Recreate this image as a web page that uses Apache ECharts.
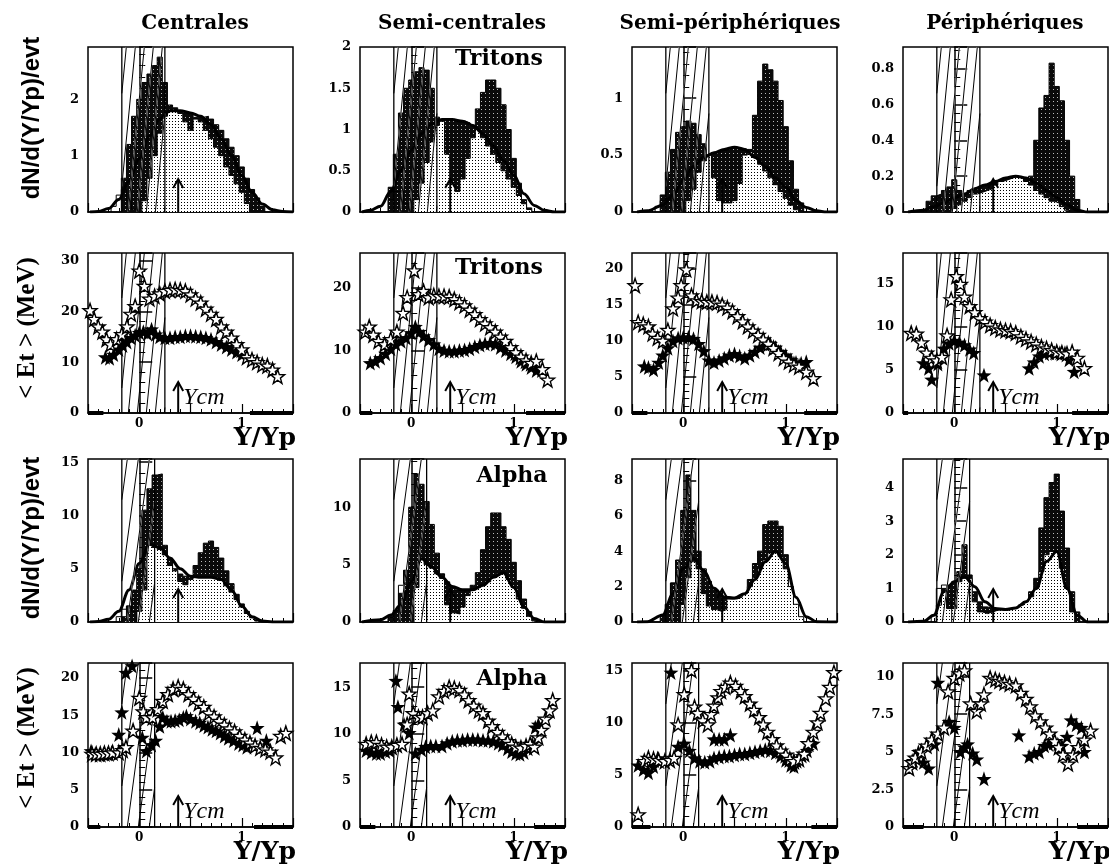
<!DOCTYPE html>
<html><head><meta charset="utf-8">
<script src="https://cdn.jsdelivr.net/npm/echarts@6.0.0/dist/echarts.min.js"></script>
<style>html,body{margin:0;padding:0;background:#fff}#c{width:1109px;height:866px}</style>
</head><body><div id="c"></div>
<script>
// ---------------- DATA ----------------
const colTitles = ['Centrales', 'Semi-centrales', 'Semi-périphériques', 'Périphériques'];
const ycm = 0.38;
const bandTritons = [-0.17, 0.25];
const bandAlpha = [-0.17, 0.15];
const binWidth = 0.05;

// y-axis ranges and tick steps per row (columns: C, SC, SP, P)
const yMaxRows = [[2.93, 2.0, 1.45, 0.92], [31.5, 25.6, 22.2, 18.6], [15.3, 14.2, 9.2, 4.85], [22, 17.6, 15.7, 10.9]];
const yStepRows = [[1, 0.5, 0.5, 0.2], [10, 10, 5, 5], [5, 5, 2, 1], [5, 5, 5, 2.5]];
const xTickLabels = [0, 1];

// ---- Tritons dN/d(Y/Yp) histograms: [bin centre, value]
const triDarkC = [[-0.15,0.6],[-0.1,1.2],[-0.05,1.7],[0,2.0],[0.05,2.3],[0.1,2.45],[0.15,2.6],[0.2,2.75],[0.25,2.3],[0.3,1.9],[0.35,1.85],[0.4,1.8],[0.45,1.75],[0.5,1.72],[0.55,1.68],[0.6,1.68],[0.65,1.7],[0.7,1.65],[0.75,1.55],[0.8,1.45],[0.85,1.3],[0.9,1.15],[0.95,1.0],[1.0,0.8],[1.05,0.6],[1.1,0.4],[1.15,0.25],[1.2,0.1]];
const triLightC = [[0.05,0.2],[0.1,0.6],[0.15,1.0],[0.2,1.4],[0.25,1.7],[0.3,1.8],[0.35,1.8],[0.4,1.75],[0.45,1.6],[0.5,1.45],[0.55,1.65],[0.6,1.6],[0.65,1.45],[0.7,1.3],[0.75,1.15],[0.8,1.0],[0.85,0.8],[0.9,0.65],[0.95,0.5],[1.0,0.35],[1.05,0.15]];
const triBumpC = [[-0.25,0.1],[-0.2,0.3],[-0.15,0.4],[-0.1,0.2],[-0.05,0.05]];
const triFitC = [[-0.48,0],[-0.4,0.01],[-0.3,0.06],[-0.2,0.22],[-0.1,0.55],[0,0.95],[0.1,1.35],[0.2,1.65],[0.3,1.8],[0.4,1.8],[0.5,1.76],[0.6,1.7],[0.7,1.55],[0.8,1.3],[0.9,1.0],[1.0,0.65],[1.1,0.35],[1.2,0.14],[1.3,0.04],[1.4,0.01],[1.5,0]];

const triDarkSC = [[-0.2,0.3],[-0.15,0.7],[-0.1,1.2],[-0.05,1.5],[0,1.6],[0.05,1.7],[0.1,1.75],[0.15,1.72],[0.2,1.5],[0.25,1.15],[0.3,1.12],[0.35,1.12],[0.4,1.12],[0.45,1.1],[0.5,1.1],[0.55,1.08],[0.6,1.05],[0.65,1.25],[0.7,1.45],[0.75,1.6],[0.8,1.6],[0.85,1.5],[0.9,1.3],[0.95,1.0],[1.0,0.65],[1.05,0.35],[1.1,0.15],[1.15,0.05]];
const triLightSC = [[0.05,0.15],[0.1,0.35],[0.15,0.6],[0.2,0.85],[0.25,1.05],[0.3,1.1],[0.35,0.7],[0.4,0.35],[0.45,0.25],[0.5,0.4],[0.55,0.65],[0.6,0.9],[0.65,1.0],[0.7,0.9],[0.75,0.8],[0.8,0.7],[0.85,0.6],[0.9,0.5],[0.95,0.4],[1.0,0.3],[1.05,0.2],[1.1,0.1],[1.15,0.03]];
const triBumpSC = [[-0.2,0.15],[-0.15,0.25],[-0.1,0.25],[-0.05,0.1]];
const triFitSC = [[-0.48,0],[-0.4,0.02],[-0.3,0.07],[-0.2,0.25],[-0.1,0.5],[0,0.75],[0.1,0.95],[0.2,1.07],[0.3,1.12],[0.4,1.12],[0.5,1.1],[0.6,1.05],[0.7,0.95],[0.8,0.8],[0.9,0.62],[1.0,0.45],[1.1,0.22],[1.2,0.08],[1.3,0.02],[1.4,0],[1.5,0]];

const triDarkSP = [[-0.2,0.15],[-0.15,0.35],[-0.1,0.55],[-0.05,0.7],[0,0.75],[0.05,0.8],[0.1,0.78],[0.15,0.68],[0.2,0.6],[0.25,0.5],[0.3,0.52],[0.35,0.53],[0.4,0.55],[0.45,0.56],[0.5,0.57],[0.55,0.56],[0.6,0.55],[0.65,0.55],[0.7,0.85],[0.75,1.15],[0.8,1.3],[0.85,1.25],[0.9,1.15],[0.95,0.98],[1.0,0.75],[1.05,0.45],[1.1,0.2],[1.15,0.08]];
const triLightSP = [[0.05,0.1],[0.1,0.2],[0.15,0.35],[0.2,0.45],[0.25,0.5],[0.3,0.3],[0.35,0.1],[0.4,0.08],[0.45,0.08],[0.5,0.1],[0.55,0.25],[0.6,0.5],[0.65,0.53],[0.7,0.48],[0.75,0.42],[0.8,0.36],[0.85,0.3],[0.9,0.24],[0.95,0.18],[1.0,0.12],[1.05,0.06],[1.1,0.02]];
const triBumpSP = [[-0.25,0.05],[-0.2,0.1],[-0.15,0.12],[-0.1,0.1],[-0.05,0.05]];
const triFitSP = [[-0.45,0],[-0.35,0.01],[-0.2,0.06],[-0.1,0.15],[0,0.28],[0.1,0.4],[0.2,0.48],[0.3,0.52],[0.4,0.55],[0.5,0.57],[0.6,0.55],[0.7,0.48],[0.8,0.4],[0.9,0.3],[1.0,0.22],[1.1,0.1],[1.2,0.04],[1.3,0.01],[1.4,0],[1.5,0]];

const triDarkP = [[-0.25,0.06],[-0.2,0.09],[-0.15,0.1],[-0.1,0.12],[-0.05,0.14],[0,0.18],[0.05,0.12],[0.1,0.1],[0.15,0.12],[0.2,0.13],[0.25,0.14],[0.3,0.15],[0.35,0.16],[0.4,0.17],[0.45,0.18],[0.5,0.19],[0.55,0.2],[0.6,0.2],[0.65,0.19],[0.7,0.18],[0.75,0.2],[0.8,0.4],[0.85,0.58],[0.9,0.65],[0.95,0.83],[1.0,0.7],[1.05,0.62],[1.1,0.4],[1.15,0.2],[1.2,0.07]];
const triLightP = [[0,0.02],[0.05,0.04],[0.1,0.06],[0.15,0.08],[0.2,0.1],[0.25,0.11],[0.3,0.12],[0.35,0.13],[0.4,0.15],[0.45,0.17],[0.5,0.18],[0.55,0.19],[0.6,0.2],[0.65,0.19],[0.7,0.17],[0.75,0.15],[0.8,0.12],[0.85,0.1],[0.9,0.08],[0.95,0.06],[1.0,0.05],[1.05,0.03],[1.1,0.01]];
const triBumpP = [[-0.2,0.03],[-0.15,0.08],[-0.1,0.05],[-0.05,0.1],[0,0.03]];
const triFitP = [[-0.45,0],[-0.3,0.01],[-0.2,0.03],[-0.1,0.05],[0,0.08],[0.1,0.1],[0.2,0.13],[0.3,0.15],[0.4,0.17],[0.5,0.19],[0.6,0.2],[0.7,0.19],[0.8,0.16],[0.9,0.12],[1.0,0.08],[1.1,0.04],[1.2,0.01],[1.3,0],[1.5,0]];

// ---- Alpha dN/d(Y/Yp) histograms
const alpDarkC = [[-0.15,0.5],[-0.1,1.5],[-0.05,3],[0,5],[0.05,10.5],[0.1,12.5],[0.15,13.8],[0.2,13.9],[0.25,7.2],[0.3,6.0],[0.35,5.0],[0.4,4.5],[0.45,4.3],[0.5,4.2],[0.55,5.3],[0.6,6.5],[0.65,7.4],[0.7,7.6],[0.75,7.0],[0.8,6.0],[0.85,4.8],[0.9,3.6],[0.95,2.6],[1.0,1.7],[1.05,1.0],[1.1,0.5],[1.15,0.2],[1.2,0.05]];
const alpLightC = [[0,1.0],[0.05,3.0],[0.1,7.2],[0.15,7.0],[0.2,6.8],[0.25,6.3],[0.3,5.3],[0.35,4.8],[0.4,3.8],[0.45,3.5],[0.5,4.0],[0.55,4.2],[0.6,4.2],[0.65,4.2],[0.7,4.2],[0.75,4.1],[0.8,3.9],[0.85,3.4],[0.9,2.8],[0.95,2.1],[1.0,1.4],[1.05,0.8],[1.1,0.4],[1.15,0.1]];
const alpBumpC = [[-0.2,0.5],[-0.15,1.2],[-0.1,1.5],[-0.05,1.0]];
const alpFitC = [[-0.48,0],[-0.4,0.05],[-0.3,0.25],[-0.2,1.0],[-0.1,3.0],[0,5.5],[0.1,7.3],[0.2,7.0],[0.3,6.0],[0.4,5.0],[0.5,4.3],[0.6,4.2],[0.7,4.2],[0.8,4.0],[0.9,3.0],[1.0,1.5],[1.1,0.5],[1.2,0.1],[1.3,0.01],[1.5,0]];

const alpDarkSC = [[-0.2,0.5],[-0.15,1.0],[-0.1,2.5],[-0.05,4.5],[0,10],[0.05,12.9],[0.1,12.0],[0.15,10.5],[0.2,8.5],[0.25,6.0],[0.3,4.2],[0.35,3.5],[0.4,3.0],[0.45,2.8],[0.5,2.7],[0.55,2.8],[0.6,3.2],[0.65,4.3],[0.7,6.3],[0.75,8.3],[0.8,9.5],[0.85,9.5],[0.9,8.3],[0.95,7.2],[1.0,5.2],[1.05,3.6],[1.1,2.0],[1.15,0.9],[1.2,0.3]];
const alpLightSC = [[0.05,3],[0.1,5.5],[0.15,5.0],[0.2,4.7],[0.25,4.2],[0.3,3.8],[0.35,1.5],[0.4,0.8],[0.45,0.7],[0.5,1.3],[0.55,2.3],[0.6,2.8],[0.65,3.0],[0.7,3.2],[0.75,3.5],[0.8,3.9],[0.85,4.2],[0.9,4.3],[0.95,3.7],[1.0,3.0],[1.05,2.0],[1.1,1.2],[1.15,0.5],[1.2,0.1]];
const alpBumpSC = [[-0.2,0.4],[-0.15,1.0],[-0.1,3.2],[-0.05,4.5],[0,1.5]];
const alpFitSC = [[-0.48,0],[-0.3,0.2],[-0.2,0.6],[-0.1,1.5],[0,3.5],[0.1,5.5],[0.2,4.8],[0.3,3.9],[0.4,3.1],[0.5,2.8],[0.6,2.8],[0.7,3.2],[0.8,3.9],[0.9,4.3],[1.0,3.0],[1.1,1.3],[1.2,0.3],[1.3,0],[1.5,0]];

const alpDarkSP = [[-0.2,0.4],[-0.15,1.0],[-0.1,2.2],[-0.05,3.5],[0,6.3],[0.05,8.3],[0.1,6.3],[0.15,4.0],[0.2,3.0],[0.25,2.3],[0.3,1.9],[0.35,1.6],[0.4,1.45],[0.45,1.4],[0.5,1.35],[0.55,1.4],[0.6,1.6],[0.65,2.4],[0.7,3.3],[0.75,4.0],[0.8,5.5],[0.85,5.7],[0.9,5.7],[0.95,5.4],[1.0,3.8],[1.05,1.9],[1.1,0.6],[1.15,0.1]];
const alpLightSP = [[0,1.0],[0.05,2.5],[0.1,3.4],[0.15,3.0],[0.2,1.6],[0.25,0.9],[0.3,0.7],[0.35,0.6],[0.4,0.7],[0.45,1.3],[0.5,1.3],[0.55,1.4],[0.6,1.6],[0.65,2.0],[0.7,2.5],[0.75,3.0],[0.8,3.5],[0.85,3.9],[0.9,4.0],[0.95,3.7],[1.0,3.0],[1.05,2.0],[1.1,1.0],[1.15,0.3]];
const alpBumpSP = [[-0.15,1.0],[-0.1,2.2],[-0.05,2.8],[0,1.0]];
const alpFitSP = [[-0.45,0],[-0.35,0.02],[-0.2,0.4],[-0.1,1.6],[0,3.0],[0.1,3.6],[0.2,2.9],[0.3,1.9],[0.4,1.4],[0.5,1.35],[0.6,1.6],[0.7,2.4],[0.8,3.4],[0.9,4.0],[1.0,3.3],[1.1,1.4],[1.2,0.3],[1.3,0.02],[1.5,0]];

const alpDarkP = [[-0.15,0.3],[-0.1,1.0],[-0.05,1.1],[0,1.2],[0.05,1.5],[0.1,2.3],[0.15,1.4],[0.2,0.9],[0.25,0.6],[0.3,0.45],[0.35,0.4],[0.4,0.38],[0.45,0.37],[0.5,0.37],[0.55,0.4],[0.6,0.42],[0.65,0.5],[0.7,0.6],[0.75,0.9],[0.8,1.3],[0.85,2.8],[0.9,3.7],[0.95,4.15],[1.0,4.4],[1.05,3.3],[1.1,2.2],[1.15,0.9],[1.2,0.3]];
const alpLightP = [[-0.15,0.5],[-0.1,0.9],[-0.05,0.4],[0,0.4],[0.05,1.2],[0.1,1.3],[0.15,1.3],[0.2,0.6],[0.25,0.3],[0.3,0.25],[0.35,0.3],[0.4,0.35],[0.45,0.37],[0.5,0.37],[0.55,0.4],[0.6,0.42],[0.65,0.5],[0.7,0.6],[0.75,0.75],[0.8,1.0],[0.85,1.5],[0.9,2.0],[0.95,2.1],[1.0,2.1],[1.05,1.6],[1.1,1.0],[1.15,0.3]];
const alpBumpP = [[-0.2,0.2],[-0.15,1.0],[-0.1,1.1],[-0.05,0.6]];
const alpFitP = [[-0.45,0],[-0.3,0.02],[-0.2,0.2],[-0.1,0.9],[0,1.2],[0.1,1.35],[0.2,1.05],[0.3,0.6],[0.4,0.4],[0.5,0.37],[0.6,0.42],[0.7,0.6],[0.8,1.0],[0.9,1.8],[1.0,2.1],[1.1,1.0],[1.2,0.2],[1.3,0],[1.5,0]];

// ---- Tritons <Et> (MeV): open stars, filled stars, zero-level segments
const triEtOpenC = [[-0.48,20.2],[-0.44,18.5],[-0.4,17],[-0.36,16],[-0.32,14.5],[-0.28,13.5],[-0.22,14.5],[-0.17,15.5],[-0.12,17],[-0.08,19.5],[-0.04,21],[0.0,28],[0.05,25],[0.1,22.5],[0.15,23],[0.2,23.5],[0.25,24],[0.3,24.2],[0.35,24.3],[0.4,24.2],[0.45,24],[0.5,23.3],[0.55,22.5],[0.6,21.7],[0.65,20.5],[0.7,19.5],[0.75,18.5],[0.8,17],[0.85,16],[0.9,14.8],[0.95,13.5],[1.0,12.5],[1.05,11],[1.1,10.5],[1.15,10],[1.2,9.5],[1.25,9.3],[1.3,8.5],[1.35,7.2]];
const triEtFillC = [[-0.33,11],[-0.29,10.8],[-0.25,11.5],[-0.2,12.5],[-0.16,13.3],[-0.12,14],[-0.08,14.8],[-0.04,15.3],[0.0,15.8],[0.04,16],[0.08,15.6],[0.12,16.5],[0.16,15.5],[0.2,15],[0.25,14.8],[0.3,14.8],[0.35,15],[0.4,15],[0.45,15.2],[0.5,15.2],[0.55,15.1],[0.6,15],[0.65,14.8],[0.7,14.5],[0.75,14],[0.8,13.5],[0.85,13],[0.9,12.5],[0.95,12],[1.0,11.5],[1.05,11],[1.1,10.5],[1.15,10]];
const triEtZeroC = [[-0.5,-0.35],[1.08,1.5]];

const triEtOpenSC = [[-0.45,13],[-0.41,13.8],[-0.37,12.5],[-0.32,11.5],[-0.26,11],[-0.2,11.8],[-0.14,13],[-0.08,16],[-0.04,18.5],[0.03,22.8],[0.07,19],[0.12,19.5],[0.17,18.5],[0.22,18.8],[0.27,18.7],[0.32,18.7],[0.37,18.6],[0.42,18.2],[0.47,17.7],[0.52,17.2],[0.57,16.5],[0.62,15.8],[0.67,15],[0.72,14.3],[0.77,13.7],[0.82,13],[0.87,12.2],[0.92,11.5],[0.97,10.5],[1.02,9.7],[1.07,9],[1.12,8.4],[1.17,8],[1.22,8.3],[1.28,7],[1.33,5.3]];
const triEtFillSC = [[-0.4,8],[-0.35,8.3],[-0.3,8.8],[-0.25,9.5],[-0.2,10.3],[-0.15,11],[-0.1,11.5],[-0.05,12],[0.0,12.8],[0.04,13.8],[0.08,13],[0.12,12.3],[0.17,11.7],[0.22,11],[0.27,10.3],[0.32,10],[0.37,9.9],[0.42,9.9],[0.47,10],[0.52,10.1],[0.57,10.3],[0.62,10.6],[0.67,10.9],[0.72,11.1],[0.77,11.2],[0.82,11],[0.87,10.5],[0.92,10],[0.97,9.5],[1.02,9],[1.07,8.3],[1.12,7.8],[1.17,7.3],[1.22,6.8]];
const triEtZeroSC = [[-0.5,-0.38],[1.12,1.5]];

const triEtOpenSP = [[-0.47,17.7],[-0.44,12.6],[-0.39,12.3],[-0.34,12],[-0.3,11],[-0.25,10.4],[-0.2,10],[-0.15,11.5],[-0.1,14.5],[-0.05,16],[-0.02,17.7],[0.03,19.9],[0.08,16.3],[0.13,15.6],[0.18,15.5],[0.23,15.4],[0.28,15.4],[0.33,15.3],[0.38,15],[0.43,14.6],[0.48,14.1],[0.53,13.4],[0.58,12.7],[0.63,12],[0.68,11.4],[0.73,10.8],[0.78,10.2],[0.83,9.6],[0.88,9],[0.93,8.3],[0.98,7.6],[1.03,7.1],[1.08,6.7],[1.13,6.4],[1.2,5.7],[1.27,4.8]];
const triEtFillSP = [[-0.38,6.5],[-0.34,6.3],[-0.29,6],[-0.24,7],[-0.2,8],[-0.15,9],[-0.1,10],[-0.05,10.4],[0.0,10.5],[0.05,10.5],[0.1,10.3],[0.15,9.6],[0.2,8.6],[0.25,7.3],[0.3,7],[0.35,7.3],[0.4,7.6],[0.45,8],[0.5,8.2],[0.55,7.9],[0.6,7.6],[0.65,8],[0.7,8.5],[0.75,9.1],[0.8,9.5],[0.85,9.6],[0.9,9.1],[0.95,8.5],[1.0,8],[1.05,7.4],[1.1,7],[1.15,6.9],[1.2,7.1]];
const triEtZeroSP = [[-0.5,-0.35],[1.18,1.5]];

const triEtOpenP = [[-0.42,9.3],[-0.37,9.2],[-0.32,8.2],[-0.27,7],[-0.22,6.4],[-0.17,6.1],[-0.12,6.5],[-0.07,9],[-0.03,13.2],[0.02,15.9],[0.06,15],[0.1,13.5],[0.15,12.4],[0.2,11.7],[0.25,11],[0.3,10.6],[0.35,10.2],[0.4,9.9],[0.45,9.7],[0.5,9.6],[0.55,9.5],[0.6,9.3],[0.65,8.9],[0.7,8.6],[0.75,8.3],[0.8,8],[0.85,7.7],[0.9,7.5],[0.95,7.3],[1.0,7.1],[1.05,7],[1.1,6.9],[1.15,7.1],[1.2,6.4],[1.27,5.2]];
const triEtFillP = [[-0.3,5.8],[-0.25,5.2],[-0.22,3.9],[-0.16,5.7],[-0.1,7.5],[-0.05,8.1],[0.0,8.4],[0.05,8.2],[0.1,7.9],[0.15,7.4],[0.19,7.0],[0.29,4.4],[0.73,5.2],[0.78,5.9],[0.83,6.6],[0.88,6.9],[0.93,7.0],[0.98,7.0],[1.03,7.0],[1.08,7.0],[1.12,6.2],[1.17,4.8]];
const triEtZeroP = [[-0.5,-0.45],[1.15,1.5]];

// ---- Alpha <Et> (MeV)
const alpEtOpenC = [[-0.46,9.8],[-0.42,9.8],[-0.38,9.8],[-0.34,9.9],[-0.3,9.9],[-0.26,10],[-0.2,10],[-0.16,10.3],[-0.13,10.7],[-0.06,12.9],[0.0,17.3],[0.04,15.5],[0.07,14.7],[0.13,14.7],[0.18,15.8],[0.23,16.9],[0.28,17.8],[0.33,18.5],[0.38,18.8],[0.43,18.5],[0.48,17.8],[0.53,17.2],[0.58,16.6],[0.63,16.1],[0.68,15.3],[0.73,14.8],[0.78,14.2],[0.83,13.7],[0.88,13.2],[0.93,12.8],[0.98,12.2],[1.03,11.7],[1.08,11.3],[1.13,10.9],[1.18,10.6],[1.23,10.4],[1.28,10.1],[1.33,9.3],[1.38,12.2],[1.43,12.6]];
const alpEtFillC = [[-0.47,10.2],[-0.43,9.8],[-0.39,9.7],[-0.35,9.8],[-0.31,9.8],[-0.27,10],[-0.2,12.4],[-0.17,15.4],[-0.13,20.7],[-0.07,21.6],[0.03,12],[0.07,10.2],[0.12,11],[0.16,11.6],[0.2,13.5],[0.23,14.7],[0.27,14.2],[0.31,14.2],[0.35,14.3],[0.39,14.4],[0.43,14.7],[0.46,14.9],[0.5,14.5],[0.55,14.2],[0.59,14],[0.63,13.6],[0.67,13.4],[0.71,13.1],[0.75,12.9],[0.79,12.6],[0.83,12.2],[0.87,11.9],[0.92,11.6],[0.97,11.2],[1.01,11],[1.05,10.7],[1.15,13.3],[1.24,11.6]];
const alpEtZeroC = [[-0.5,-0.38],[1.12,1.5]];

const alpEtOpenSC = [[-0.44,8.9],[-0.39,9.1],[-0.34,9.1],[-0.29,8.8],[-0.24,8.6],[-0.19,8.6],[-0.14,8.8],[-0.09,8.9],[-0.04,11],[-0.02,14.3],[0.02,12.2],[0.07,11.8],[0.11,11.8],[0.16,12.2],[0.21,12.5],[0.27,14],[0.32,14.6],[0.37,15],[0.42,14.9],[0.47,14.7],[0.52,14.2],[0.56,13.6],[0.61,13],[0.66,12.5],[0.7,12.2],[0.75,11.4],[0.79,10.8],[0.84,10.2],[0.89,9.7],[0.94,9.2],[0.98,8.9],[1.02,8.6],[1.07,8.5],[1.12,8.7],[1.16,8.9],[1.2,8.6],[1.24,9.6],[1.27,10.4],[1.31,11.6],[1.35,12.5],[1.38,13.6]];
const alpEtFillSC = [[-0.44,8.2],[-0.39,8.0],[-0.34,7.9],[-0.3,7.9],[-0.25,8.1],[-0.21,8.2],[-0.15,15.7],[-0.13,12.9],[-0.07,11],[-0.02,10.1],[0.04,7.9],[0.1,8.3],[0.14,8.6],[0.19,8.7],[0.24,8.7],[0.3,8.7],[0.35,9],[0.4,9.2],[0.45,9.3],[0.5,9.3],[0.55,9.4],[0.6,9.4],[0.65,9.4],[0.7,9.3],[0.75,9.3],[0.8,9.2],[0.85,9.0],[0.89,8.8],[0.94,8.4],[0.98,8.1],[1.02,7.9],[1.06,7.8],[1.1,8.0],[1.14,8.4],[1.18,8.9],[1.21,10.7],[1.24,11]];
const alpEtZeroSC = [[-0.5,-0.35],[1.2,1.5]];

const alpEtOpenSP = [[-0.44,1.2],[-0.38,6.3],[-0.34,6.6],[-0.29,6.5],[-0.24,6.4],[-0.18,6.3],[-0.13,6.4],[-0.09,6.6],[-0.05,9.8],[0.01,12.7],[0.08,15.0],[0.11,11.5],[0.14,10.9],[0.19,10.2],[0.24,9.8],[0.27,10.8],[0.3,11.6],[0.34,12.4],[0.37,13.0],[0.41,13.4],[0.46,13.8],[0.51,13.5],[0.56,13.0],[0.6,12.5],[0.65,11.8],[0.69,11.2],[0.74,10.5],[0.78,9.8],[0.82,9.1],[0.87,8.4],[0.91,7.8],[0.95,7.3],[1.0,6.9],[1.04,6.5],[1.08,6.3],[1.13,6.5],[1.18,7.0],[1.22,8.0],[1.27,9.1],[1.31,10.0],[1.34,10.9],[1.39,12.3],[1.43,13.4],[1.47,14.8]];
const alpEtFillSP = [[-0.44,5.9],[-0.39,5.5],[-0.34,5.2],[-0.29,5.8],[-0.25,6.6],[-0.12,14.8],[-0.05,7.7],[0.01,8.0],[0.06,7.3],[0.11,6.6],[0.16,6.3],[0.21,6.2],[0.26,6.3],[0.3,8.4],[0.35,8.4],[0.4,8.4],[0.46,8.8],[0.3,6.6],[0.35,6.7],[0.4,6.8],[0.45,6.8],[0.5,6.9],[0.55,7.0],[0.6,7.0],[0.65,7.1],[0.7,7.2],[0.75,7.3],[0.8,7.4],[0.85,7.3],[0.9,7.1],[0.95,6.8],[1.0,6.4],[1.05,5.9],[1.08,5.8],[1.11,6.3],[1.16,6.8],[1.21,7.3],[1.27,8.0]];
const alpEtZeroSP = [[-0.5,-0.32],[1.25,1.5]];

const alpEtOpenP = [[-0.44,3.9],[-0.41,4.3],[-0.38,4.6],[-0.32,5.0],[-0.27,5.4],[-0.22,5.8],[-0.16,6.2],[-0.1,6.6],[-0.06,9.0],[0.0,9.9],[0.05,10.2],[0.1,10.4],[0.16,8.2],[0.22,7.7],[0.26,8.2],[0.29,8.8],[0.35,9.9],[0.4,9.8],[0.44,9.7],[0.49,9.6],[0.54,9.5],[0.6,9.4],[0.65,8.9],[0.7,8.5],[0.74,8.0],[0.79,7.4],[0.84,7.0],[0.89,6.6],[0.93,6.2],[0.98,5.7],[1.02,5.3],[1.06,4.8],[1.11,4.2],[1.16,4.8],[1.21,5.3],[1.27,5.8],[1.33,6.4]];
const alpEtFillP = [[-0.4,4.4],[-0.35,5.0],[-0.3,4.3],[-0.25,3.9],[-0.19,5.5],[-0.16,9.6],[-0.05,7],[0.0,6.6],[0.06,5.0],[0.1,5.3],[0.13,5.5],[0.18,4.9],[0.22,4.5],[0.29,3.2],[0.63,6.1],[0.73,4.7],[0.78,4.9],[0.83,5.0],[0.88,5.4],[0.92,5.5],[0.97,5.6],[1.01,5.5],[1.05,5.4],[1.1,6.0],[1.14,7.1],[1.19,6.8],[1.24,6.6],[1.27,5.0]];
const alpEtZeroP = [[-0.5,-0.3],[1.2,1.5]];

// grouping per row (columns C, SC, SP, P)
const histRows = {
  0: {dark:[triDarkC,triDarkSC,triDarkSP,triDarkP], light:[triLightC,triLightSC,triLightSP,triLightP], bump:[triBumpC,triBumpSC,triBumpSP,triBumpP], fit:[triFitC,triFitSC,triFitSP,triFitP], band: bandTritons},
  2: {dark:[alpDarkC,alpDarkSC,alpDarkSP,alpDarkP], light:[alpLightC,alpLightSC,alpLightSP,alpLightP], bump:[alpBumpC,alpBumpSC,alpBumpSP,alpBumpP], fit:[alpFitC,alpFitSC,alpFitSP,alpFitP], band: bandAlpha}
};
const etRows = {
  1: {open:[triEtOpenC,triEtOpenSC,triEtOpenSP,triEtOpenP], fill:[triEtFillC,triEtFillSC,triEtFillSP,triEtFillP], zero:[triEtZeroC,triEtZeroSC,triEtZeroSP,triEtZeroP], band: bandTritons},
  3: {open:[alpEtOpenC,alpEtOpenSC,alpEtOpenSP,alpEtOpenP], fill:[alpEtFillC,alpEtFillSC,alpEtFillSP,alpEtFillP], zero:[alpEtZeroC,alpEtZeroSC,alpEtZeroSP,alpEtZeroP], band: bandAlpha}
};

// ---------------- LAYOUT / STYLE ----------------
const gridLeft = [88, 360, 632, 903];
const gridW = 205;
const gridTop = [47, 253, 459, 663];
const gridH = [165, 160, 163, 164];
const yMinorSplit = [[5,5,5,4],[5,5,5,5],[5,5,4,5],[5,5,5,5]];
const hatchShift = [16, 16, 22, 22];
const hatchGap = [9, 9, 11, 11];
const SERIF = '"DejaVu Serif", serif';
const TIMES = '"Liberation Serif", serif';
const STAR = 'path://M0,-10 L2.35,-3.24 L9.51,-3.09 L3.8,1.24 L5.88,8.09 L0,4 L-5.88,8.09 L-3.8,1.24 L-9.51,-3.09 L-2.35,-3.24 Z';

function makePattern(bg, dot, size) {
  const c = document.createElement('canvas');
  c.width = size; c.height = size;
  const g = c.getContext('2d');
  g.fillStyle = bg; g.fillRect(0, 0, size, size);
  g.fillStyle = dot; g.fillRect(1, 1, 1, 1);
  return c;
}
const darkPat = {image: makePattern('#0a0a0a', '#bbb', 4), repeat: 'repeat'};
const lightPat = {image: makePattern('#fff', '#000', 3), repeat: 'repeat'};

function stepLine(bins) {
  const pts = [];
  bins.forEach(([c, v], i) => {
    const l = c - binWidth / 2, r = c + binWidth / 2;
    if (i === 0) pts.push([l, 0]);
    pts.push([l, v], [r, v]);
  });
  const last = bins[bins.length - 1];
  pts.push([last[0] + binWidth / 2, 0]);
  return pts;
}
function isMult(v, step) { const q = v / step; return Math.abs(q - Math.round(q)) < 1e-6; }
function fmtNum(v) { return String(parseFloat(v.toFixed(3))); }

function bandRenderer(shift, gap, whiteW) {
  return function (params, api) {
    const cs = params.coordSys;
    const xl = api.coord([api.value(0), 0])[0];
    const xr = api.coord([api.value(1), 0])[0];
    const top = cs.y, bot = cs.y + cs.height, h = cs.height;
    const segs = [];
    for (let bx = xl - shift + gap * 0.5; bx < xr; bx += gap) {
      const t0 = Math.max(0, (xl - bx) / shift), t1 = Math.min(1, (xr - bx) / shift);
      if (t1 > t0) segs.push([bx + shift * t0, bot - h * t0, bx + shift * t1, bot - h * t1]);
    }
    const kids = [];
    if (whiteW > 0) segs.forEach(s => kids.push({type: 'line', shape: {x1: s[0], y1: s[1], x2: s[2], y2: s[3]}, style: {stroke: '#fff', lineWidth: whiteW}}));
    segs.forEach(s => kids.push({type: 'line', shape: {x1: s[0], y1: s[1], x2: s[2], y2: s[3]}, style: {stroke: '#000', lineWidth: 1}}));
    kids.push({type: 'line', shape: {x1: xl, y1: top, x2: xl, y2: bot}, style: {stroke: '#000', lineWidth: 1.3}});
    kids.push({type: 'line', shape: {x1: xr, y1: top, x2: xr, y2: bot}, style: {stroke: '#000', lineWidth: 1.3}});
    return {type: 'group', children: kids};
  };
}
function arrowRenderer(len, withText) {
  return function (params, api) {
    const p = api.coord([api.value(0), 0]);
    const x = p[0], y = p[1];
    const kids = [
      {type: 'line', shape: {x1: x, y1: y, x2: x, y2: y - len}, style: {stroke: '#000', lineWidth: 2}},
      {type: 'polyline', shape: {points: [[x - 5, y - len + 9], [x, y - len], [x + 5, y - len + 9]]}, style: {stroke: '#000', lineWidth: 2, fill: null}}
    ];
    if (withText) kids.push({type: 'text', x: x + 5, y: y - 3, style: {text: 'Ycm', font: 'italic 24px ' + TIMES, fill: '#000', align: 'left', verticalAlign: 'bottom', textAlign: 'left', textVerticalAlign: 'bottom'}});
    return {type: 'group', children: kids};
  };
}

// ---------------- BUILD ----------------
const grids = [], xAxes = [], yAxes = [], series = [];
for (let r = 0; r < 4; r++) {
  for (let c = 0; c < 4; c++) {
    const i = r * 4 + c;
    const isEt = (r === 1 || r === 3);
    grids.push({left: gridLeft[c], top: gridTop[r], width: gridW, height: gridH[r], show: true, borderColor: '#000', borderWidth: 1.5, backgroundColor: 'transparent', containLabel: false, outerBoundsMode: 'none'});
    xAxes.push({gridIndex: i, type: 'value', min: -0.5, max: 1.5, interval: 0.5,
      axisLine: {show: true, onZero: false, lineStyle: {color: '#000', width: 1.5}},
      axisTick: {show: true, inside: true, length: 9, lineStyle: {color: '#000', width: 1.2}},
      minorTick: {show: true, splitNumber: 5, length: 4, lineStyle: {color: '#000', width: 1}},
      splitLine: {show: false}, minorSplitLine: {show: false},
      axisLabel: {show: isEt, margin: 5, color: '#000', fontFamily: SERIF, fontWeight: 'bold', fontSize: 12,
        formatter: v => xTickLabels.some(t => Math.abs(v - t) < 1e-9) ? fmtNum(v) : ''}
    });
    const step = yStepRows[r][c];
    yAxes.push({gridIndex: i, type: 'value', min: 0, max: yMaxRows[r][c], interval: step,
      axisLine: {show: true, lineStyle: {color: '#000', width: 1.5}},
      axisTick: {show: true, inside: true, length: 13, lineStyle: {color: '#000', width: 1.5}},
      minorTick: {show: true, splitNumber: yMinorSplit[r][c], length: 6, lineStyle: {color: '#000', width: 1}},
      splitLine: {show: false}, minorSplitLine: {show: false},
      axisLabel: {show: true, margin: 9, color: '#000', fontFamily: SERIF, fontWeight: 'bold', fontSize: 13,
        formatter: v => isMult(v, step) ? fmtNum(v) : ''}
    });
    const base = {xAxisIndex: i, yAxisIndex: i, silent: true, animation: false};
    if (!isEt) {
      const H = histRows[r];
      series.push(Object.assign({type: 'line', data: stepLine(H.dark[c]), symbol: 'none', lineStyle: {color: '#000', width: 1}, areaStyle: {color: darkPat, opacity: 1}, z: 2}, base));
      series.push(Object.assign({type: 'line', data: stepLine(H.light[c]), symbol: 'none', lineStyle: {color: '#000', width: 1}, areaStyle: {color: lightPat, opacity: 1}, z: 3}, base));
      series.push(Object.assign({type: 'line', data: stepLine(H.bump[c]), symbol: 'none', lineStyle: {color: '#000', width: 1}, z: 3}, base));
      series.push(Object.assign({type: 'line', data: H.fit[c], symbol: 'none', smooth: 0.35, smoothMonotone: 'x', lineStyle: {color: '#000', width: 3}, z: 4}, base));
      series.push(Object.assign({type: 'custom', data: [[H.band[0], H.band[1], 0]], encode: {x: [0, 1], y: 2}, renderItem: bandRenderer(hatchShift[r], hatchGap[r], 1.3), z: 5}, base));
      series.push(Object.assign({type: 'custom', data: [[ycm, 0]], encode: {x: 0, y: 1}, renderItem: arrowRenderer(33, false), z: 6}, base));
    } else {
      const E = etRows[r];
      series.push(Object.assign({type: 'custom', data: [[E.band[0], E.band[1], 0]], encode: {x: [0, 1], y: 2}, renderItem: bandRenderer(hatchShift[r], hatchGap[r], 0), z: 1}, base));
      E.zero[c].forEach(seg => {
        series.push(Object.assign({type: 'line', data: [[seg[0], 0], [seg[1], 0]], symbol: 'none', lineStyle: {color: '#000', width: 4}, z: 2}, base));
      });
      series.push(Object.assign({type: 'scatter', data: E.fill[c], symbol: STAR, symbolSize: 15, itemStyle: {color: '#000', opacity: 1}, z: 3}, base));
      series.push(Object.assign({type: 'scatter', data: E.open[c], symbol: STAR, symbolSize: 14, itemStyle: {color: '#fff', borderColor: '#000', borderWidth: 1.4, opacity: 1}, z: 4}, base));
      series.push(Object.assign({type: 'custom', data: [[ycm, 0]], encode: {x: 0, y: 1}, renderItem: arrowRenderer(31, true), z: 6}, base));
    }
  }
}

// ---------------- TEXTS ----------------
const graphics = [];
function txt(text, x, y, font, opts) {
  graphics.push(Object.assign({type: 'text', x: x, y: y, silent: true, z: 100,
    style: {text: text, font: font, fill: '#000', align: 'center', verticalAlign: 'middle', textAlign: 'center', textVerticalAlign: 'middle'}}, opts || {}));
}
const titleX = [195, 462, 730, 1005];
colTitles.forEach((t, c) => txt(t, titleX[c], 24, 'bold 20px ' + SERIF));
txt('dN/d(Y/Yp)/evt', 32, 118, 'bold 24px "Liberation Sans", sans-serif', {rotation: Math.PI / 2});
txt('dN/d(Y/Yp)/evt', 32, 538, 'bold 24px "Liberation Sans", sans-serif', {rotation: Math.PI / 2});
txt('< Et > (MeV)', 28, 328, 'bold 25px ' + TIMES, {rotation: Math.PI / 2});
txt('< Et > (MeV)', 28, 738, 'bold 25px ' + TIMES, {rotation: Math.PI / 2});
txt('Tritons', 499, 59, 'bold 22px ' + SERIF);
txt('Tritons', 499, 268, 'bold 22px ' + SERIF);
txt('Alpha', 512, 476, 'bold 22px ' + SERIF);
txt('Alpha', 512, 679, 'bold 22px ' + SERIF);
[1, 3].forEach(r => {
  for (let c = 0; c < 4; c++) {
    graphics.push({type: 'text', x: gridLeft[c] + gridW + 3, y: gridTop[r] + gridH[r] + 25, silent: true, z: 100,
      style: {text: 'Y/Yp', font: 'bold 25px ' + SERIF, fill: '#000', align: 'right', verticalAlign: 'middle', textAlign: 'right', textVerticalAlign: 'middle'}});
  }
});

const chart = echarts.init(document.getElementById('c'), null, {renderer: 'canvas'});
chart.setOption({
  animation: false,
  backgroundColor: '#fff',
  grid: grids, xAxis: xAxes, yAxis: yAxes, series: series, graphic: graphics
});
</script></body></html>
